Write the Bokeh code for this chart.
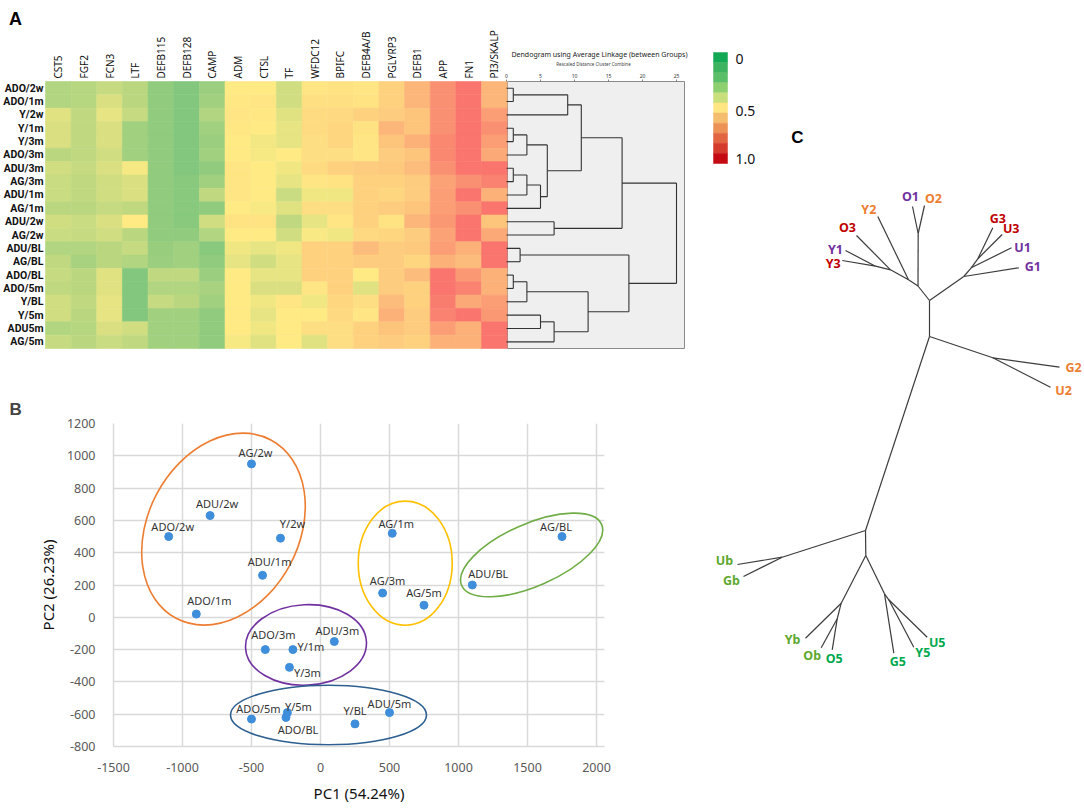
import numpy as np
from bokeh.plotting import figure
from bokeh.models import Range1d, ColumnDataSource, LinearColorMapper, FixedTicker
from bokeh.layouts import row, column
from bokeh.embed import file_html
from bokeh.resources import INLINE
from bokeh.core.properties import value
from bokeh.transform import transform

FONT = "Noto Sans"
BOLDFONT = "Liberation Sans"
ROWFONT = "Roboto"

# ---------------- Panel A data ----------------
genes = ["CST5", "FGF2", "FCN3", "LTF", "DEFB115", "DEFB128", "CAMP", "ADM", "CTSL",
         "TF", "WFDC12", "BPIFC", "DEFB4A/B", "PGLYRP3", "DEFB1", "APP", "FN1", "PI3/SKALP"]
samples = ["ADO/2w", "ADO/1m", "Y/2w", "Y/1m", "Y/3m", "ADO/3m", "ADU/3m", "AG/3m", "ADU/1m",
           "AG/1m", "ADU/2w", "AG/2w", "ADU/BL", "AG/BL", "ADO/BL", "ADO/5m", "Y/BL", "Y/5m",
           "ADU5m", "AG/5m"]

CST5 = [0.25, 0.25, 0.40, 0.38, 0.38, 0.28, 0.35, 0.33, 0.33, 0.28, 0.35, 0.33, 0.25, 0.30, 0.32, 0.30, 0.35, 0.35, 0.25, 0.32]
FGF2 = [0.27, 0.27, 0.30, 0.30, 0.30, 0.30, 0.32, 0.30, 0.30, 0.28, 0.33, 0.32, 0.25, 0.22, 0.28, 0.28, 0.30, 0.28, 0.27, 0.28]
FCN3 = [0.32, 0.38, 0.42, 0.38, 0.38, 0.35, 0.38, 0.35, 0.35, 0.32, 0.38, 0.35, 0.28, 0.28, 0.40, 0.40, 0.42, 0.42, 0.38, 0.33]
LTF = [0.28, 0.28, 0.32, 0.20, 0.20, 0.20, 0.47, 0.38, 0.38, 0.30, 0.50, 0.28, 0.32, 0.25, 0.10, 0.10, 0.10, 0.10, 0.35, 0.30]
DEFB115 = [0.15, 0.15, 0.15, 0.15, 0.15, 0.15, 0.15, 0.15, 0.15, 0.15, 0.15, 0.15, 0.17, 0.18, 0.30, 0.25, 0.32, 0.20, 0.20, 0.20]
DEFB128 = [0.10, 0.10, 0.10, 0.10, 0.10, 0.10, 0.10, 0.12, 0.12, 0.12, 0.12, 0.15, 0.20, 0.20, 0.30, 0.25, 0.28, 0.20, 0.20, 0.20]
CAMP = [0.18, 0.20, 0.25, 0.20, 0.18, 0.20, 0.15, 0.20, 0.30, 0.15, 0.35, 0.25, 0.12, 0.15, 0.18, 0.22, 0.20, 0.15, 0.15, 0.15]
ADM = [0.50, 0.51, 0.52, 0.51, 0.50, 0.50, 0.52, 0.52, 0.52, 0.50, 0.53, 0.50, 0.45, 0.42, 0.50, 0.50, 0.50, 0.50, 0.50, 0.47]
CTSL = [0.50, 0.52, 0.51, 0.50, 0.46, 0.47, 0.50, 0.50, 0.50, 0.48, 0.53, 0.50, 0.42, 0.35, 0.42, 0.38, 0.45, 0.42, 0.45, 0.40]
TF = [0.35, 0.35, 0.40, 0.42, 0.42, 0.50, 0.45, 0.42, 0.33, 0.40, 0.30, 0.35, 0.45, 0.42, 0.42, 0.38, 0.52, 0.50, 0.50, 0.50]
WFDC12 = [0.52, 0.54, 0.56, 0.56, 0.55, 0.55, 0.56, 0.52, 0.45, 0.55, 0.42, 0.48, 0.60, 0.60, 0.60, 0.52, 0.45, 0.50, 0.55, 0.40]
BPIFC = [0.53, 0.54, 0.57, 0.58, 0.58, 0.55, 0.60, 0.53, 0.45, 0.55, 0.52, 0.45, 0.60, 0.60, 0.60, 0.60, 0.58, 0.57, 0.55, 0.55]
DEFB4AB = [0.52, 0.53, 0.60, 0.53, 0.52, 0.52, 0.62, 0.60, 0.60, 0.60, 0.60, 0.57, 0.68, 0.62, 0.50, 0.40, 0.55, 0.52, 0.60, 0.60]
PGLYRP3 = [0.60, 0.60, 0.62, 0.70, 0.65, 0.62, 0.63, 0.60, 0.58, 0.62, 0.53, 0.58, 0.62, 0.62, 0.62, 0.62, 0.68, 0.72, 0.65, 0.62]
DEFB1 = [0.70, 0.70, 0.65, 0.65, 0.72, 0.65, 0.68, 0.62, 0.62, 0.65, 0.70, 0.62, 0.63, 0.58, 0.68, 0.60, 0.60, 0.62, 0.62, 0.60]
APP = [0.85, 0.85, 0.85, 0.85, 0.88, 0.88, 0.85, 0.78, 0.80, 0.80, 0.82, 0.78, 0.80, 0.72, 0.95, 0.95, 0.92, 0.90, 0.80, 0.72]
FN1 = [0.95, 0.95, 0.95, 0.95, 0.95, 0.95, 0.95, 0.85, 0.95, 0.85, 0.95, 0.95, 0.72, 0.68, 0.82, 0.90, 0.75, 0.95, 0.72, 0.72]
PI3 = [0.70, 0.70, 0.80, 0.85, 0.80, 0.75, 0.95, 0.90, 0.72, 0.95, 0.65, 0.75, 0.95, 0.95, 0.72, 0.72, 0.80, 0.82, 0.95, 0.95]
heat_columns = [CST5, FGF2, FCN3, LTF, DEFB115, DEFB128, CAMP, ADM, CTSL, TF, WFDC12,
                BPIFC, DEFB4AB, PGLYRP3, DEFB1, APP, FN1, PI3]

# dendrogram merges (cluster a, cluster b, rescaled distance); new clusters get ids 20, 21, ...
dend_merges = [(0, 1, 1), (20, 2, 9), (3, 4, 1), (22, 5, 3), (6, 7, 1), (24, 8, 3), (25, 9, 5),
               (23, 26, 6), (21, 27, 11), (10, 11, 7), (28, 29, 17), (12, 13, 2), (14, 15, 1),
               (32, 16, 3), (17, 18, 5), (34, 19, 7), (33, 35, 12), (31, 36, 18), (30, 37, 25)]
dend_ticks = [0, 5, 10, 15, 20, 25]

colorbar_colors = ["#12A854", "#3DB35F", "#5BBE68", "#8ECF6F", "#C9DF7C", "#FFE682",
                   "#F5BE6F", "#EC9257", "#E26542", "#D43B2D", "#C40B13"]   # top (0) to bottom (1.0)
colorbar_label_values = [0.055, 0.525, 0.955]
colorbar_labels = ["0", "0.5", "1.0"]

# ---------------- Panel B data ----------------
pc_names = ["AG/2w", "ADU/2w", "ADO/2w", "Y/2w", "ADU/1m", "ADO/1m", "AG/1m", "AG/3m", "AG/5m",
            "ADU/BL", "AG/BL", "ADO/3m", "Y/1m", "ADU/3m", "Y/3m", "ADO/5m", "Y/5m", "ADO/BL",
            "Y/BL", "ADU/5m"]
pc1 = [-500, -800, -1100, -290, -420, -900, 520, 450, 750, 1100, 1750, -400, -200, 100, -225,
       -500, -240, -250, 250, 500]
pc2 = [950, 630, 500, 490, 260, 20, 520, 150, 75, 200, 500, -200, -200, -150, -310, -630, -590,
       -620, -660, -590]
x_ticks = [-1500, -1000, -500, 0, 500, 1000, 1500, 2000]
x_tick_labels = ["-1500", "-1000", "-500", "0", "500", "1000", "1500", "2000"]
y_ticks = [-800, -600, -400, -200, 0, 200, 400, 600, 800, 1000, 1200]
y_tick_labels = ["-800", "-600", "-400", "-200", "0", "200", "400", "600", "800", "1000", "1200"]

# cluster ellipses (centre, full width/height in axis units, tilt in degrees)
cluster_cx = [-703, -105, 58, 614, 1530]
cluster_cy = [546, -171, -605, 335, 386]
cluster_w = [1464, 877, 1420, 681, 1106]
cluster_h = [935, 498, 369, 769, 386]
cluster_angle = [62, 3, 0, 0, 23.6]

# ---------------- Panel C data ----------------
tree_nodes = ["n1", "n2", "oo", "O1", "O2", "n3", "Y2", "n4", "O3", "n5", "Y1", "Y3",
              "n6", "G1", "n7", "U1", "n8", "G3", "U3", "t1", "gu", "G2", "U2",
              "t2", "ub", "Ub", "Gb", "j", "k", "Yb", "k2", "Ob", "O5", "l", "G5", "m", "Y5", "U5"]
tree_x = [0.0, -0.115, -0.113, -0.17, -0.05, -0.21, -0.517, -0.39, -0.73, -0.54, -0.84, -0.873,
          0.343, 0.893, 0.417, 0.82, 0.483, 0.633, 0.727, 0.0, 0.633, 1.30, 1.21,
          -0.64, -1.473, -1.92, -1.86, -0.637, -0.883, -1.24, -0.923, -1.083, -0.973, -0.45,
          -0.357, -0.407, -0.157, -0.023]
tree_y = [0.0, 0.145, 0.67, 0.94, 0.95, 0.207, 0.84, 0.307, 0.65, 0.343, 0.50, 0.40,
          0.24, 0.327, 0.327, 0.527, 0.417, 0.727, 0.66, -0.36, -0.573, -0.667, -0.867,
          -2.30, -2.567, -2.64, -2.76, -2.55, -3.027, -3.377, -3.183, -3.473, -3.493, -2.933,
          -3.527, -2.993, -3.467, -3.367]
tree_edges = [("n1", "n2"), ("n2", "oo"), ("oo", "O1"), ("oo", "O2"), ("n2", "n3"), ("n3", "Y2"),
              ("n3", "n4"), ("n4", "O3"), ("n4", "n5"), ("n5", "Y1"), ("n5", "Y3"),
              ("n1", "n6"), ("n6", "G1"), ("n6", "n7"), ("n7", "U1"), ("n7", "n8"), ("n8", "G3"),
              ("n8", "U3"), ("n1", "t1"), ("t1", "gu"), ("gu", "G2"), ("gu", "U2"), ("t1", "t2"),
              ("t2", "ub"), ("ub", "Ub"), ("ub", "Gb"), ("t2", "j"), ("j", "k"), ("k", "Yb"),
              ("k", "k2"), ("k2", "Ob"), ("k2", "O5"), ("j", "l"), ("l", "G5"), ("l", "m"),
              ("m", "Y5"), ("m", "U5")]
leaf_labels = ["O1", "O2", "Y2", "O3", "Y1", "Y3", "G3", "U3", "U1", "G1", "G2", "U2",
               "Ub", "Gb", "Yb", "Ob", "O5", "G5", "Y5", "U5"]
leaf_groups = ["1", "2", "2", "3", "1", "3", "3", "3", "1", "1", "2", "2",
               "b", "b", "b", "b", "5", "5", "5", "5"]

# ---------------- styles ----------------
group_colors = {"1": "#7030A0", "2": "#ED7D31", "3": "#C00000", "b": "#5EA82F", "5": "#00A94F"}
cluster_colors = ["#ED7D31", "#7030A0", "#2E5F91", "#FFC000", "#70AD47"]
pc_label_dx = [4, 7, 4, 12, 7, 13, 4, 5, 0, 16, -6, 8, 18, 3, 18, 7, 11, 12, 0, 0]
pc_label_dy = [-11, -12, -10, -15, -14, -14, -10, -13, -13, -12, -10, -15, -3, -11, 5, -11, -6, 12, -13, -9]
leaf_dx = [-2, 9, -9, -9, -10, -9, 5, 9, 11, 14, 14, 13, -13, -12, -13, -9, 2, 4, 9, 10]
leaf_dy = [-10, -7, -7, -8, -1, 3, -9, -6, 0, -1, 0, 3, -4, 4, 1, 8, 9, 8, 5, 5]


def hex2rgb(h):
    return [int(h[i:i + 2], 16) for i in (1, 3, 5)]


lo_c, mid_c, hi_c = hex2rgb("#63BE7B"), hex2rgb("#FFEB84"), hex2rgb("#F8696B")
heat_palette = []
for k in range(256):
    t = k / 255
    a, b, f = (lo_c, mid_c, t * 2) if t <= 0.5 else (mid_c, hi_c, (t - 0.5) * 2)
    heat_palette.append("#%02x%02x%02x" % tuple(int(round(a[i] + (b[i] - a[i]) * f)) for i in range(3)))
heat_mapper = LinearColorMapper(palette=heat_palette, low=0, high=1)


def no_align(p):
    try:
        p.frame_align = False
    except Exception:
        pass


# page layout (pixels): panel A/B column is LW wide; A is AH tall, B below; C at the right
LW, AH, BH, CW = 700, 352, 453, 384
TOTAL_H = AH + BH

# ================= Panel A =================
X0, SX, Y0, SY = 45.0, 25.65, 81.0, 13.35


def ax(px):
    return (px - X0) / SX


def ay(py):
    return (py - Y0) / SY


pA = figure(width=LW, height=AH, x_range=Range1d(ax(0), ax(LW)), y_range=Range1d(ay(AH), ay(0)),
            x_axis_location=None, y_axis_location=None, min_border=0, toolbar_location=None,
            output_backend="svg")
no_align(pA)
pA.grid.visible = False
pA.outline_line_color = None

DX0, DS = 506.0, 6.8
pA.extra_x_ranges = {"dend": Range1d((0 - DX0) / DS, (LW - DX0) / DS)}

# dendrogram background box
pA.quad(left=[(507 - DX0) / DS], right=[(684 - DX0) / DS], top=[0], bottom=[len(samples)],
        x_range_name="dend", fill_color="#efefef", line_color="#8a8a8a", line_width=1)

hx, hy, hv = [], [], []
for i, col in enumerate(heat_columns):
    for j, v in enumerate(col):
        hx.append(i + 0.5)
        hy.append(j + 0.5)
        hv.append(v)
hsrc = ColumnDataSource(dict(x=hx, y=hy, v=hv))
pA.rect(x="x", y="y", width=1, height=1, source=hsrc, fill_color=transform("v", heat_mapper),
        line_color=transform("v", heat_mapper), line_width=0.6)

pA.text(x=[ax(43)] * len(samples), y=[j + 0.5 for j in range(len(samples))], text=samples,
        text_align="right", text_baseline="middle", text_font=value(ROWFONT),
        text_font_size="10.5px", text_font_style="bold", text_color="#111111")
pA.text(x=[i + 0.5 for i in range(len(genes))], y=[ay(78)] * len(genes), text=genes, angle=np.pi / 2,
        text_align="left", text_baseline="middle", text_font=value(FONT), text_font_size="10px",
        text_color="#111111")
pA.text(x=[ax(15)], y=[ay(18)], text=["A"], text_align="center", text_baseline="middle",
        text_font=value(BOLDFONT), text_font_size="18px", text_font_style="bold", text_color="black")

# dendrogram lines
pos = {i: i + 0.5 for i in range(len(samples))}
hgt = {i: 0.0 for i in range(len(samples))}
sx0, sy0, sx1, sy1 = [], [], [], []
nid = len(samples)
for a, b, h in dend_merges:
    for c in (a, b):
        sx0.append(hgt[c]); sy0.append(pos[c]); sx1.append(h); sy1.append(pos[c])
    sx0.append(h); sy0.append(pos[a]); sx1.append(h); sy1.append(pos[b])
    pos[nid] = (pos[a] + pos[b]) / 2
    hgt[nid] = h
    nid += 1
pA.segment(x0=sx0, y0=sy0, x1=sx1, y1=sy1, x_range_name="dend", line_color="#333333", line_width=1.1)

pA.segment(x0=dend_ticks, y0=[ay(79)] * 6, x1=dend_ticks, y1=[ay(81)] * 6, x_range_name="dend",
           line_color="#666666", line_width=0.8)
pA.text(x=dend_ticks, y=[ay(75)] * 6, text=[str(t) for t in dend_ticks], x_range_name="dend",
        text_align="center", text_baseline="middle", text_font=value(FONT), text_font_size="5px",
        text_color="#333333")
pA.text(x=[(599 - DX0) / DS], y=[ay(54)], text=["Dendogram using Average Linkage (between Groups)"],
        x_range_name="dend", text_align="center", text_baseline="middle", text_font=value(FONT),
        text_font_size="7px", text_color="#222222")
pA.text(x=[(593 - DX0) / DS], y=[ay(63)], text=["Rescaled Distance Cluster Combine"],
        x_range_name="dend", text_align="center", text_baseline="middle", text_font=value(FONT),
        text_font_size="4.5px", text_color="#444444")

# ================= Panel B =================
X_EXTRA = 58   # the right-hand cluster ring reaches a little past the last gridline
pB = figure(width=LW, height=BH, x_range=Range1d(x_ticks[0], x_ticks[-1] + X_EXTRA),
            y_range=Range1d(y_ticks[0], y_ticks[-1]), min_border_left=113, min_border_right=96,
            min_border_top=423 - AH, min_border_bottom=AH + BH - 748, toolbar_location=None,
            output_backend="svg", title="B")
no_align(pB)
pB.title.text_font = BOLDFONT
pB.title.text_font_size = "17px"
pB.title.text_font_style = "bold"
pB.title.align = "left"
pB.title.offset = -104
pB.outline_line_color = None
for axis, ticks, labels in ((pB.xaxis, x_ticks, x_tick_labels), (pB.yaxis, y_ticks, y_tick_labels)):
    axis.ticker = FixedTicker(ticks=ticks)
    axis.major_label_overrides = dict(zip(ticks, labels))
    axis.major_tick_line_color = None
    axis.minor_tick_line_color = None
    axis.axis_line_color = "#d9d9d9"
    axis.axis_line_width = 1.5
    axis.major_label_text_font = FONT
    axis.major_label_text_font_size = "12.5px"
    axis.major_label_text_color = "#595959"
    axis.axis_label_text_font = FONT
    axis.axis_label_text_font_size = "15px"
    axis.axis_label_text_font_style = "normal"
    axis.axis_label_text_color = "#111111"
pB.xaxis.axis_label = "PC1 (54.24%)"
pB.yaxis.axis_label = "PC2 (26.23%)"
pB.xaxis.major_label_standoff = 10
pB.xaxis.axis_label_standoff = 8
pB.yaxis.major_label_standoff = 12
pB.yaxis.axis_label_standoff = 6
pB.xgrid.ticker = FixedTicker(ticks=x_ticks)
pB.ygrid.ticker = FixedTicker(ticks=y_ticks)
pB.grid.grid_line_color = "#d9d9d9"
pB.grid.grid_line_width = 1.5

pB.ellipse(x=cluster_cx, y=cluster_cy, width=cluster_w, height=cluster_h, angle=cluster_angle,
           angle_units="deg", fill_color=None, line_color=cluster_colors, line_width=1.6)
pB.scatter(x=pc1, y=pc2, size=8, fill_color="#3F8EDB", line_color="#3F8EDB")
psrc = ColumnDataSource(dict(x=pc1, y=pc2, t=pc_names, dx=pc_label_dx, dy=pc_label_dy))
pB.text(x="x", y="y", text="t", x_offset="dx", y_offset="dy", source=psrc, text_align="center",
        text_baseline="middle", text_font=value(FONT), text_font_size="11px", text_color="#333333")

# ================= Panel C (and colour key of A) =================
TX0, TY0, TS = 929.0, 300.0, 100.0


def cx(px):
    return (px - TX0) / TS


def cy(py):
    return (TY0 - py) / TS


pC = figure(width=CW, height=TOTAL_H, x_range=Range1d(cx(LW), cx(LW + CW)),
            y_range=Range1d(cy(TOTAL_H), cy(0)),
            x_axis_location=None, y_axis_location=None, min_border=0, toolbar_location=None,
            output_backend="svg")
no_align(pC)
pC.grid.visible = False
pC.outline_line_color = None

idx = {n: i for i, n in enumerate(tree_nodes)}
pC.segment(x0=[tree_x[idx[a]] for a, b in tree_edges], y0=[tree_y[idx[a]] for a, b in tree_edges],
           x1=[tree_x[idx[b]] for a, b in tree_edges], y1=[tree_y[idx[b]] for a, b in tree_edges],
           line_color="#3c3c3c", line_width=1.2)
lsrc = ColumnDataSource(dict(x=[tree_x[idx[n]] for n in leaf_labels], y=[tree_y[idx[n]] for n in leaf_labels],
                             t=leaf_labels, c=[group_colors[g] for g in leaf_groups], dx=leaf_dx, dy=leaf_dy))
pC.text(x="x", y="y", text="t", x_offset="dx", y_offset="dy", text_color="c", source=lsrc,
        text_align="center", text_baseline="middle", text_font=value(FONT), text_font_size="12.5px",
        text_font_style="bold")
pC.text(x=[cx(797)], y=[cy(137)], text=["C"], text_align="center", text_baseline="middle",
        text_font=value(BOLDFONT), text_font_size="17px", text_font_style="bold", text_color="black")

# colour key: value 0 at top (page y 52), 1.0 at bottom (page y 163)
CB_TOP, CB_LEN = 52.0, 111.0
pC.extra_y_ranges = {"cb": Range1d((TOTAL_H - CB_TOP) / CB_LEN, (0 - CB_TOP) / CB_LEN)}
ncb = len(colorbar_colors)
pC.quad(left=[cx(713)] * ncb, right=[cx(727)] * ncb, top=[k / ncb for k in range(ncb)],
        bottom=[(k + 1) / ncb for k in range(ncb)], fill_color=colorbar_colors,
        line_color=colorbar_colors, line_width=0.5, y_range_name="cb")
pC.text(x=[cx(735)] * 3, y=colorbar_label_values, text=colorbar_labels, y_range_name="cb",
        text_align="left", text_baseline="middle", text_font=value(FONT), text_font_size="14px",
        text_color="#111111")

layout = row(column(pA, pB), pC)
open("out.html", "w").write(file_html(layout, INLINE))
